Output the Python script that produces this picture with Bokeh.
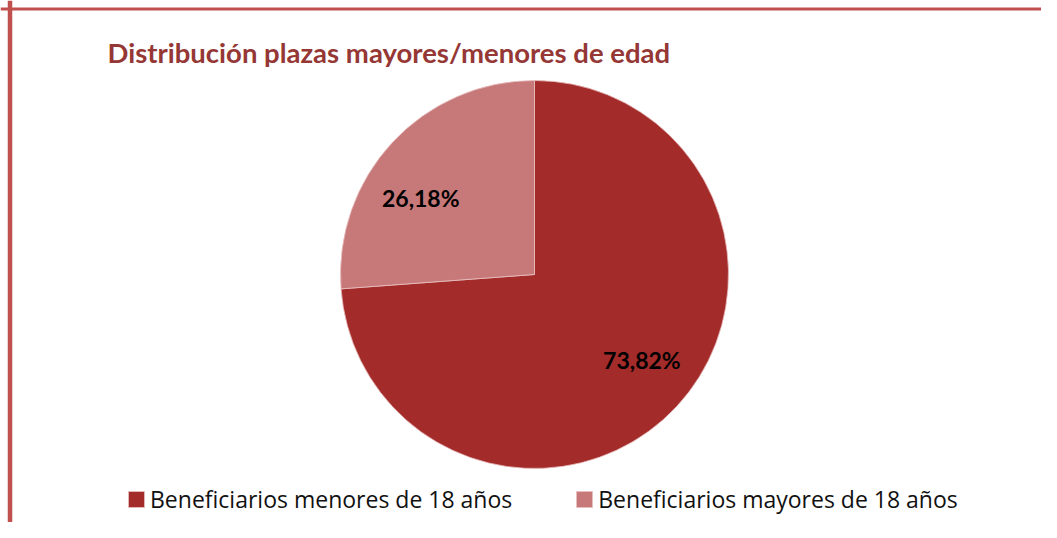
import math
from bokeh.plotting import figure
from bokeh.models import Legend, LegendItem, Span, Label, ColumnDataSource, Range1d
from bokeh.embed import file_html
from bokeh.resources import INLINE

# ---- data ----
title = "Distribución plazas mayores/menores de edad"
categories = ["Beneficiarios menores de 18 años", "Beneficiarios mayores de 18 años"]
values = [73.82, 26.18]
labels = ["73,82%", "26,18%"]
colors = ["#A32B2A", "#C77879"]

W, H = 1041, 522
p = figure(width=W, height=H, output_backend="svg", toolbar_location=None,
           x_range=Range1d(0, W), y_range=Range1d(0, H), min_border=0,
           background_fill_color="white", border_fill_color="white")
p.axis.visible = False
p.grid.visible = False
p.outline_line_color = None

# border lines
p.add_layout(Span(location=9.5, dimension="height", line_color="#C0504D", line_width=4.5))
p.add_layout(Span(location=H - 8.5, dimension="width", line_color="#C0504D", line_width=3))

# pie geometry
cx, cy, R = 534, 248, 194
total = sum(values)
fr_minor = values[1] / total
a0 = math.pi / 2
a1 = a0 + 2 * math.pi * fr_minor
a2 = a0 + 2 * math.pi
starts = [a1, a0]
ends = [a2, a1]
src = ColumnDataSource(dict(x=[cx, cx], y=[cy, cy], start=starts, end=ends,
                            color=colors, cat=categories))
r = p.wedge(x="x", y="y", radius=R, start_angle="start", end_angle="end",
            fill_color="color", line_color="#E8C0C0", line_width=0.8, source=src)

# percentage labels (placed along each slice's mid angle, nudged like the original)
lab_r = [137, 137]
lab_nudge = [math.radians(4.5), math.radians(9)]
for i in range(2):
    mid = (starts[i] + ends[i]) / 2 + lab_nudge[i]
    lx = cx + lab_r[i] * math.cos(mid)
    ly = cy + lab_r[i] * math.sin(mid)
    p.add_layout(Label(x=lx, y=ly, text=labels[i], text_align="center",
                       text_baseline="middle", text_font="Lato", text_font_style="bold",
                       text_font_size="23px", text_color="black"))

# title
p.add_layout(Label(x=107, y=470, text=title, text_font="Lato", text_font_style="bold",
                   text_font_size="27.5px", text_color="#953735", text_baseline="alphabetic"))

legend = Legend(items=[LegendItem(label=categories[i], renderers=[r], index=i) for i in range(2)],
                orientation="horizontal", location=(126, 7),
                glyph_width=20, glyph_height=20, label_standoff=4, spacing=62,
                padding=0, margin=0, border_line_color=None, background_fill_alpha=0,
                label_text_font="Open Sans", label_text_font_size="23px", label_text_color="#111111")
p.add_layout(legend, "center")

open("out.html", "w").write(file_html(p, INLINE))
